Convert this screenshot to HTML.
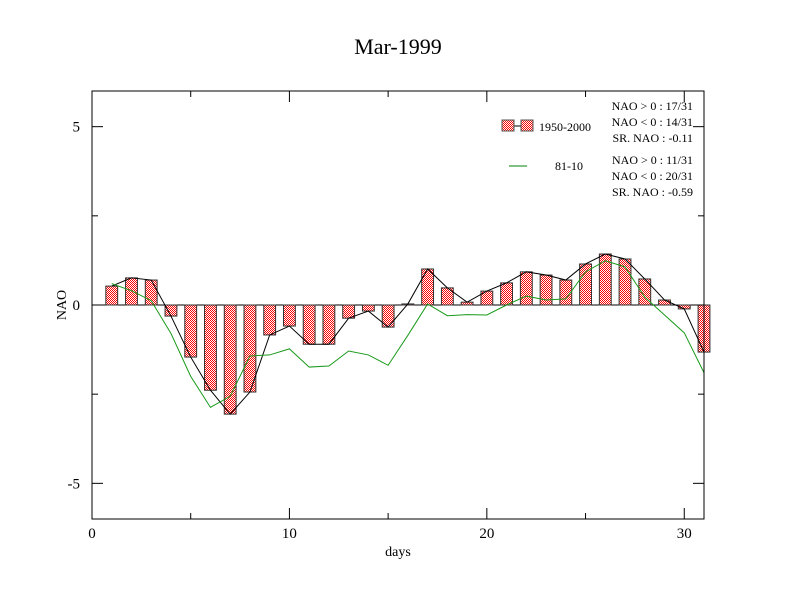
<!DOCTYPE html>
<html><head><meta charset="utf-8"><style>
html,body{margin:0;padding:0;background:#fff;}
svg{display:block;font-family:"Liberation Serif",serif;}
</style></head><body>
<svg id="chart" width="792" height="612" viewBox="0 0 792 612" xmlns="http://www.w3.org/2000/svg">
<defs>
<pattern id="chk" width="2" height="2" patternUnits="userSpaceOnUse">
<rect width="2" height="2" fill="#fff"/><rect width="1" height="1" fill="#f00"/><rect x="1" y="1" width="1" height="1" fill="#f00"/>
</pattern>
</defs>
<text x="398" y="54" font-size="22" text-anchor="middle">Mar-1999</text>
<g id="marks"></g>
<rect x="92" y="91" width="612" height="428" fill="none" stroke="#000" stroke-width="1"/>
<g id="axes"></g>
<text x="398" y="556" font-size="14" text-anchor="middle">days</text>
<text transform="translate(66,305) rotate(-90)" font-size="14" text-anchor="middle">NAO</text>
<g>
<line x1="508" y1="126" x2="527" y2="126" stroke="#000"/>
<rect x="502" y="120" width="12" height="11" fill="url(#chk)" stroke="#555"/>
<rect x="521" y="120" width="12" height="11" fill="url(#chk)" stroke="#555"/>
<text x="539" y="131" font-size="12">1950-2000</text>
<line x1="509" y1="166" x2="527" y2="166" stroke="#008000"/>
<text x="555" y="170" font-size="12">81-10</text>
<g font-size="12" text-anchor="end">
<text x="693" y="110">NAO &gt; 0 : 17/31</text>
<text x="693" y="126">NAO &lt; 0 : 14/31</text>
<text x="693" y="142">SR. NAO : -0.11</text>
<text x="693" y="164">NAO &gt; 0 : 11/31</text>
<text x="693" y="180">NAO &lt; 0 : 20/31</text>
<text x="693" y="196">SR. NAO : -0.59</text>
</g>
</g>
</svg>
<script>
const days = [1,2,3,4,5,6,7,8,9,10,11,12,13,14,15,16,17,18,19,20,21,22,23,24,25,26,27,28,29,30,31];
const nao1950 = [0.53,0.76,0.70,-0.31,-1.46,-2.39,-3.06,-2.44,-0.84,-0.59,-1.10,-1.10,-0.37,-0.17,-0.62,0.03,1.01,0.48,0.08,0.39,0.62,0.93,0.84,0.70,1.15,1.43,1.29,0.73,0.14,-0.11,-1.32];
const nao8110 = [0.60,0.40,0.12,-0.80,-2.00,-2.87,-2.56,-1.43,-1.40,-1.23,-1.74,-1.71,-1.29,-1.40,-1.69,-0.85,0.03,-0.30,-0.27,-0.28,0.00,0.25,0.14,0.17,0.93,1.24,1.07,0.22,-0.28,-0.78,-1.90];
const xTicks = [0,10,20,30];
const xMinor = [5,15,25];
const yTicks = [-5,0,5];
const yMinor = [-2.5,2.5];
const NS='http://www.w3.org/2000/svg';
const X0=92,X1=704,Y0=91,Y1=519;
function xs(v){return X0+(v-0)/(31-0)*(X1-X0);}
function ys(v){return Y1-(v-(-6))/(12)*(Y1-Y0);}
function mk(tag,attrs,parent){const e=document.createElementNS(NS,tag);for(const k in attrs)e.setAttribute(k,attrs[k]);parent.appendChild(e);return e;}
const marks=document.getElementById('marks');
const axes=document.getElementById('axes');
// zero line
const z=mk('line',{x1:X0,x2:X1,y1:ys(0),y2:ys(0),stroke:'#000'},marks);


const bw=(xs(1)-xs(0))*0.6;
days.forEach((d,i)=>{
  const v=nao1950[i];
  const top=Math.min(ys(v),ys(0)),h=Math.abs(ys(v)-ys(0));
  const r=mk('rect',{x:xs(d)-bw/2,y:top,width:bw,height:Math.max(h,1),fill:'url(#chk)',stroke:'#333','stroke-width':1},marks);
  
  
});
const p1=mk('polyline',{points:days.map((d,i)=>xs(d)+','+ys(nao1950[i])).join(' '),fill:'none',stroke:'#000','stroke-width':1},marks);


const p2=mk('polyline',{points:days.map((d,i)=>xs(d)+','+ys(nao8110[i])).join(' '),fill:'none',stroke:'#1a9a1a','stroke-width':1},marks);


xTicks.forEach(t=>{
  mk('line',{x1:xs(t),x2:xs(t),y1:Y1,y2:Y1-11,stroke:'#000'},axes);
  mk('line',{x1:xs(t),x2:xs(t),y1:Y0,y2:Y0+11,stroke:'#000'},axes);
  const l=mk('text',{x:xs(t),y:Y1+19,'font-size':15,'text-anchor':'middle'},axes);
  l.textContent=t;
  
  
});
xMinor.forEach(t=>{
  mk('line',{x1:xs(t),x2:xs(t),y1:Y1,y2:Y1-6,stroke:'#000'},axes);
  mk('line',{x1:xs(t),x2:xs(t),y1:Y0,y2:Y0+6,stroke:'#000'},axes);
});
yTicks.forEach(t=>{
  mk('line',{x1:X0,x2:X0+11,y1:ys(t),y2:ys(t),stroke:'#000'},axes);
  mk('line',{x1:X1,x2:X1-11,y1:ys(t),y2:ys(t),stroke:'#000'},axes);
  const l=mk('text',{x:X0-12,y:ys(t)+5,'font-size':15,'text-anchor':'end'},axes);
  l.textContent=t;
  
  
});
yMinor.forEach(t=>{
  mk('line',{x1:X0,x2:X0+6,y1:ys(t),y2:ys(t),stroke:'#000'},axes);
  mk('line',{x1:X1,x2:X1-6,y1:ys(t),y2:ys(t),stroke:'#000'},axes);
});
</script>
</body></html>
